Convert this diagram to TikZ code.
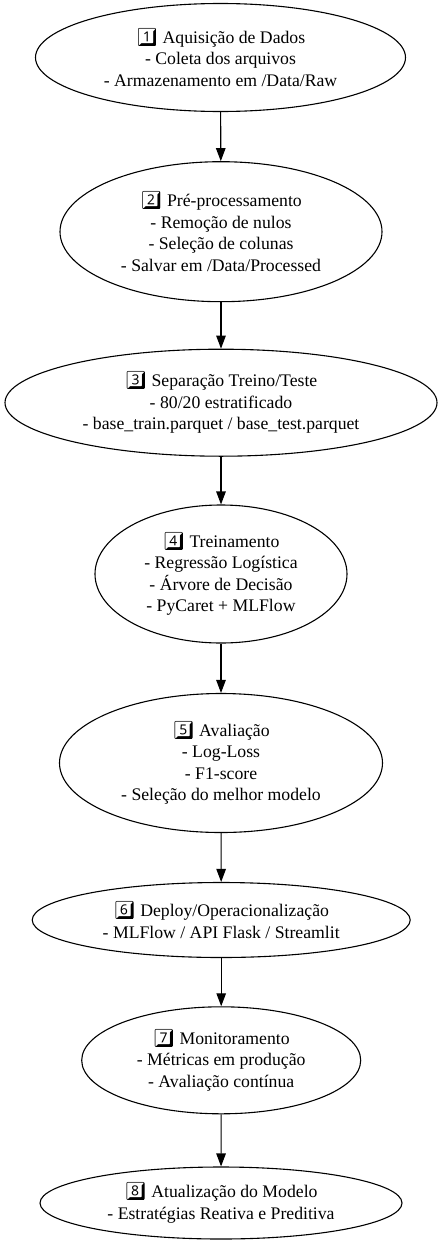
\documentclass[tikz,border=0pt]{standalone}
\usepackage{fontspec}
\setmainfont{Liberation Serif}
\newfontfamily\emojifont{Noto Emoji}
\usetikzlibrary{shapes.geometric,arrows.meta}
\newcommand{\kcap}[1]{{\emojifont #1^^^^fe0f^^^^20e3}}
\begin{document}
\begin{tikzpicture}[x=1pt,y=-1pt,
  stage/.style={draw, ellipse, line width=1.1pt, inner sep=0pt, align=center,
    font=\fontsize{17.7}{21.5}\selectfont},
  arr/.style={-{Triangle[length=13pt,width=9.5pt]}, line width=1.1pt}]
\useasboundingbox (0,0) rectangle (442,1245);
\node[stage, minimum width=370pt, minimum height=108pt] (n1) at (220.5,57.5)
  {\kcap{1} Aquisição de Dados\\- Coleta dos arquivos\\- Armazenamento em /Data/Raw};
\node[stage, minimum width=322pt, minimum height=140pt] (n2) at (221,231.7)
  {\kcap{2} Pré-processamento\\- Remoção de nulos\\- Seleção de colunas\\- Salvar em /Data/Processed};
\node[stage, minimum width=432pt, minimum height=107pt] (n3) at (221,402.7)
  {\kcap{3} Separação Treino/Teste\\- 80/20 estratificado\\- base\_train.parquet / base\_test.parquet};
\node[stage, minimum width=252pt, minimum height=138pt] (n4) at (221,574)
  {\kcap{4} Treinamento\\- Regressão Logística\\- Árvore de Decisão\\- PyCaret + MLFlow};
\node[stage, minimum width=323pt, minimum height=139pt] (n5) at (221,763)
  {\kcap{5} Avaliação\\- Log-Loss\\- F1-score\\- Seleção do melhor modelo};
\node[stage, minimum width=378pt, minimum height=75pt] (n6) at (221.2,920)
  {\kcap{6} Deploy/Operacionalização\\- MLFlow / API Flask / Streamlit};
\node[stage, minimum width=279pt, minimum height=107pt] (n7) at (221.2,1060.3)
  {\kcap{7} Monitoramento\\- Métricas em produção\\- Avaliação contínua};
\node[stage, minimum width=362pt, minimum height=72pt] (n8) at (221,1203)
  {\kcap{8} Atualização do Modelo\\- Estratégias Reativa e Preditiva};
\draw[arr] (n1) -- (n2);
\draw[arr] (n2) -- (n3);
\draw[arr] (n3) -- (n4);
\draw[arr] (n4) -- (n5);
\draw[arr] (n5) -- (n6);
\draw[arr] (n6) -- (n7);
\draw[arr] (n7) -- (n8);
\end{tikzpicture}
\end{document}
